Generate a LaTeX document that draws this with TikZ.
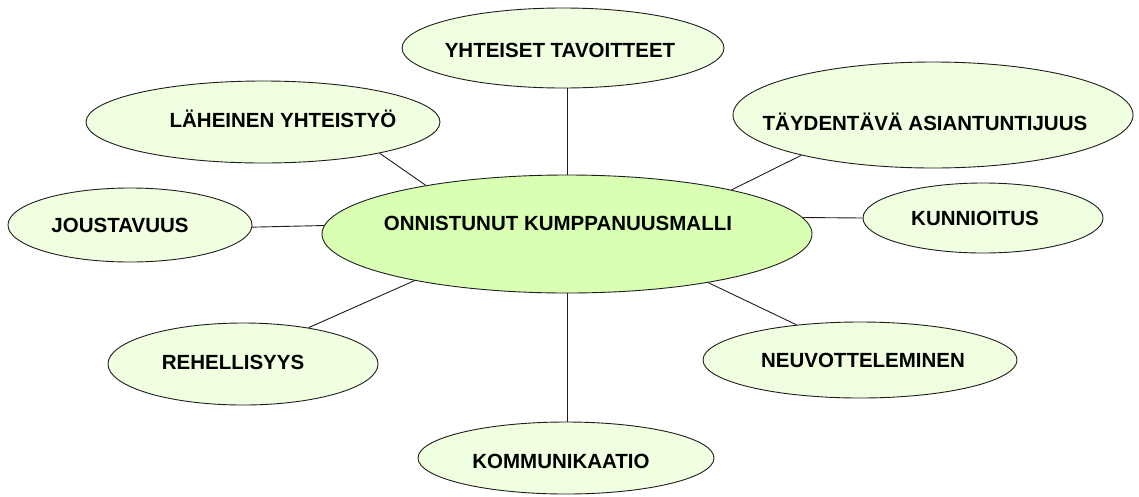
\documentclass[tikz,border=0pt]{standalone}
\usepackage{fontspec}
\setmainfont{Liberation Sans}
\usetikzlibrary{shapes.geometric}
\definecolor{centerfill}{RGB}{217,255,179}
\definecolor{outerfill}{RGB}{239,255,223}
\definecolor{edgecol}{RGB}{30,30,30}
\begin{document}
\begin{tikzpicture}[x=1pt,y=-1pt,
  bubble/.style={ellipse,draw=edgecol,line width=0.9pt,fill=outerfill,inner sep=0pt},
  hub/.style={bubble,fill=centerfill},
  lbl/.style={inner sep=0pt,font=\fontsize{20.5}{24}\selectfont\bfseries,text=black},
  link/.style={draw=edgecol,line width=0.9pt}]
\fill[white] (0,0) rectangle (1139,496);
\useasboundingbox (0,0) rectangle (1139,496);

\node[hub,minimum width=490pt,minimum height=118pt] (C) at (567,234) {};
\node[bubble,minimum width=322pt,minimum height=80pt] (yht) at (563,48) {};
\node[bubble,minimum width=354pt,minimum height=82pt] (lah) at (263,122) {};
\node[bubble,minimum width=400pt,minimum height=106pt] (tay) at (933,115) {};
\node[bubble,minimum width=244pt,minimum height=74pt] (jou) at (130,225) {};
\node[bubble,minimum width=240pt,minimum height=70pt] (kun) at (983,218) {};
\node[bubble,minimum width=270pt,minimum height=82pt] (reh) at (243,364) {};
\node[bubble,minimum width=314pt,minimum height=76pt] (neu) at (860,360) {};
\node[bubble,minimum width=296pt,minimum height=72pt] (kom) at (566,458) {};

\draw[link] (C.north) -- (C.north |- yht.south);
\draw[link] (lah.-15) -- (C.161);
\draw[link] (tay.197.8) -- (C.15.5);
\draw[link] (jou.-1.4) -- (C.178.6);
\draw[link] (C.4) -- (kun.west);
\draw[link] (reh.29) -- (C.197.5);
\draw[link] (C.-19.2) -- (neu.151);
\draw[link] (C.south) -- (C.south |- kom.north);

\node[lbl] (tC) at (558,223) {ONNISTUNUT KUMPPANUUSMALLI};
\node[lbl] (tyht) at (560,50) {YHTEISET TAVOITTEET};
\node[lbl] (tlah) at (283,119) {LÄHEINEN YHTEISTYÖ};
\node[lbl] (ttay) at (925,122) {TÄYDENTÄVÄ ASIANTUNTIJUUS};
\node[lbl] (tjou) at (120,225) {JOUSTAVUUS};
\node[lbl] (tkun) at (975,218) {KUNNIOITUS};
\node[lbl] (treh) at (233,362) {REHELLISYYS};
\node[lbl] (tneu) at (863,360) {NEUVOTTELEMINEN};
\node[lbl] (tkom) at (561,461) {KOMMUNIKAATIO};
\end{tikzpicture}
\end{document}
